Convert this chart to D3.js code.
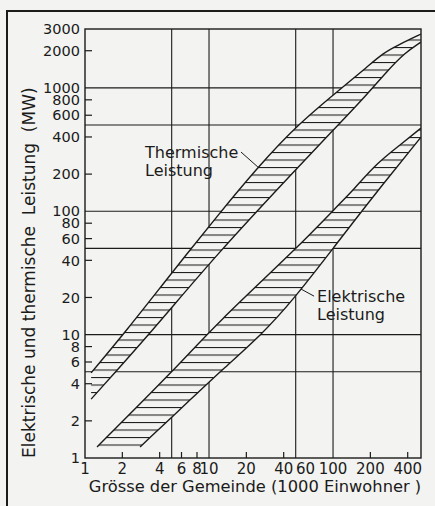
<!DOCTYPE html>
<html>
<head>
<meta charset="utf-8">
<script src="https://cdn.jsdelivr.net/npm/d3@7"></script>
<style>
  body { margin: 0; background: #f3f3f1; }
  svg { display: block; }
  text { font-family: "DejaVu Sans", sans-serif; fill: #1b1b1b; }
</style>
</head>
<body>
<div class="container"></div>
<script>
// x: Grösse der Gemeinde (1000 Einwohner), y: Leistung (MW), beide log
var xTickLabels = [1, 2, 4, 6, 8, 10, 20, 40, 60, 100, 200, 400];
var xTickMarks = [2, 4, 6, 8, 20, 40, 200, 400];
var xGrid = [5, 10, 50, 100];
var yTickLabels = [1, 2, 4, 6, 8, 10, 20, 40, 60, 80, 100, 200, 400, 600, 800, 1000, 2000, 3000];
var yTickMarks = [2, 4, 6, 8, 20, 40, 60, 80, 200, 400, 600, 800, 2000];
var yGrid = [5, 10, 50, 100, 500, 1000];

// Bandgrenzen [Einwohner in 1000, MW]
var thermOben = [[1.12, 4.9], [2.18, 10.9], [4.85, 30.4], [11.8, 93], [24.8, 228], [51.3, 500],
  [118, 1000], [188, 1475], [253, 1910], [334, 2220], [512, 2730]];
var thermUnten = [[1.12, 3.0], [3.54, 10.9], [11.2, 43.4], [54.2, 237], [104, 472],
  [171, 796], [278, 1394], [378, 1914], [512, 2350]];
var elekOben = [[1.25, 1.23], [5.52, 5.46], [11.2, 12.0], [52.2, 51.2], [110, 112], [145, 148],
  [226, 246], [347, 344], [512, 472]];
var elekUnten = [[2.78, 1.23], [7.03, 2.95], [12.7, 5.17], [26.8, 10.1], [47.6, 19.1], [102, 51.2],
  [199, 123], [512, 399]];

var W = 435, H = 506;
var pL = 85, pR = 421, pT = 29, pB = 458;

var svg = d3.select(".container").append("svg")
  .attr("width", W)
  .attr("height", H);

// Rahmen um die ganze Abbildung
svg.append("rect")
  .attr("x", 7).attr("y", 11)
  .attr("width", 460).attr("height", 520)
  .attr("fill", "none")
  .attr("stroke", "#1b1b1b")
  .attr("stroke-width", 2);

var x = d3.scaleLog().domain([1, 512]).range([pL, pR]);
var y = d3.scaleLog().domain([1, 3000]).range([pB, pT]);

var defs = svg.append("defs");
defs.append("clipPath").attr("id", "plotclip")
  .append("rect")
  .attr("x", pL).attr("y", pT)
  .attr("width", pR - pL).attr("height", pB - pT);

var hatch = defs.append("pattern")
  .attr("id", "hatch")
  .attr("patternUnits", "userSpaceOnUse")
  .attr("x", 0).attr("y", 2)
  .attr("width", 12).attr("height", 7.5);
hatch.append("line")
  .attr("x1", 0).attr("x2", 12)
  .attr("y1", 0.5).attr("y2", 0.5)
  .attr("stroke", "#1b1b1b")
  .attr("stroke-width", 1.1);

// Gitter
var grid = svg.append("g").attr("stroke", "#1b1b1b").attr("stroke-width", 1.1);
grid.selectAll(".gx").data(xGrid).enter().append("line")
  .attr("x1", d => x(d)).attr("x2", d => x(d))
  .attr("y1", pT).attr("y2", pB);
grid.selectAll(".gy").data(yGrid).enter().append("line")
  .attr("x1", pL).attr("x2", pR)
  .attr("y1", d => y(d)).attr("y2", d => y(d));

var line = d3.line()
  .x(d => x(d[0]))
  .y(d => y(d[1]))
  .curve(d3.curveBasis);

function bandPath(oben, unten) {
  var a = line(oben);
  var b = line(unten.slice().reverse());
  return a + "L" + b.slice(1) + "Z";
}

var bands = svg.append("g").attr("clip-path", "url(#plotclip)");
[[thermOben, thermUnten], [elekOben, elekUnten]].forEach(function (p) {
  bands.append("path")
    .attr("d", bandPath(p[0], p[1]))
    .attr("fill", "#f3f3f1");
  bands.append("path")
    .attr("d", bandPath(p[0], p[1]))
    .attr("fill", "url(#hatch)");
  [p[0], p[1]].forEach(function (edge) {
    bands.append("path")
      .attr("d", line(edge))
      .attr("fill", "none")
      .attr("stroke", "#1b1b1b")
      .attr("stroke-width", 1.4);
  });
});

// Achsenrahmen
svg.append("rect")
  .attr("x", pL).attr("y", pT)
  .attr("width", pR - pL).attr("height", pB - pT)
  .attr("fill", "none")
  .attr("stroke", "#1b1b1b")
  .attr("stroke-width", 1.4);

// Striche
var ticks = svg.append("g").attr("stroke", "#1b1b1b").attr("stroke-width", 1.2);
ticks.selectAll(".ty").data(yTickMarks).enter().append("line")
  .attr("x1", pL).attr("x2", pL + 7)
  .attr("y1", d => y(d)).attr("y2", d => y(d));
ticks.selectAll(".tx").data(xTickMarks).enter().append("line")
  .attr("x1", d => x(d)).attr("x2", d => x(d))
  .attr("y1", pB).attr("y2", pB - 6);

// Beschriftung
svg.append("g").selectAll("text").data(yTickLabels).enter().append("text")
  .attr("x", pL - 5)
  .attr("y", d => y(d))
  .attr("dy", "0.36em")
  .attr("text-anchor", "end")
  .style("font-size", "14.5px")
  .text(d => d);

svg.append("g").selectAll("text").data(xTickLabels).enter().append("text")
  .attr("x", d => x(d))
  .attr("y", pB + 16)
  .attr("text-anchor", "middle")
  .style("font-size", "15px")
  .text(d => d);

svg.append("text")
  .attr("x", (pL + pR) / 2 + 2)
  .attr("y", 492)
  .attr("text-anchor", "middle")
  .style("font-size", "16.3px")
  .text("Grösse der Gemeinde (1000 Einwohner )");

svg.append("text")
  .attr("transform", "translate(35," + pB + ") rotate(-90)")
  .attr("x", 0).attr("y", 0)
  .attr("text-anchor", "start")
  .style("font-size", "17px")
  .style("white-space", "pre")
  .text("Elektrische und thermische  Leistung  (MW)");

// Bandbezeichnungen mit Hinweislinien
function label(lines, at, from, to) {
  var t = svg.append("text")
    .attr("x", x(at[0]))
    .attr("y", y(at[1]))
    .style("font-size", "16px");
  lines.forEach(function (s, i) {
    t.append("tspan")
      .attr("x", x(at[0]))
      .attr("dy", i ? "1.1em" : 0)
      .text(s);
  });
  svg.append("line")
    .attr("x1", x(from[0])).attr("y1", y(from[1]))
    .attr("x2", x(to[0])).attr("y2", y(to[1]))
    .attr("stroke", "#1b1b1b")
    .attr("stroke-width", 1);
}
label(["Thermische", "Leistung"], [3.05, 270], [18.1, 302], [24.8, 228]);
label(["Elektrische", "Leistung"], [74.3, 18.4], [70.3, 20.5], [55.2, 23.4]);
</script>
</body>
</html>
